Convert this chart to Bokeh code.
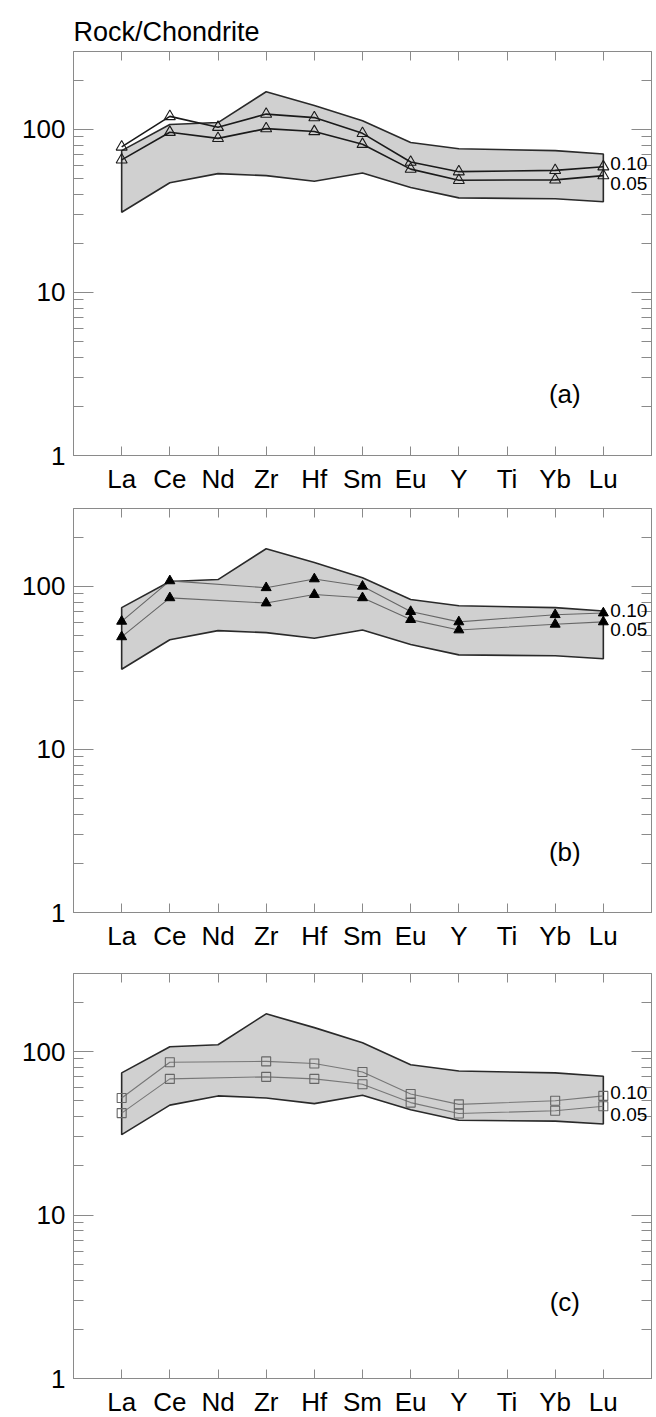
from bokeh.plotting import figure
from bokeh.models import Range1d, LinearAxis, LogAxis, FixedTicker, Label, ColumnDataSource
from bokeh.layouts import column
from bokeh.embed import file_html
from bokeh.resources import INLINE

# ---------------- data ----------------
elements = ["La", "Ce", "Nd", "Zr", "Hf", "Sm", "Eu", "Y", "Ti", "Yb", "Lu"]

# envelope (same in all panels); None = no value plotted
env_upper = [74, 107, 110, 170, 140, 113, 83, 76, None, 74, 70.6]
env_lower = [31, 47, 53.5, 52, 48, 54, 44, 38, None, 37.5, 36]

# panel (a) open triangles
a_010 = [78, 120, 103, 124, 118, 94.5, 63, 55, None, 56, 59]
a_005 = [65, 96, 88, 101, 97, 81, 57, 48.7, None, 49, 52]
# panel (b) filled triangles
b_010 = [61, 108, None, 98, 111, 100, 70, 60.5, None, 67, 68.6]
b_005 = [49, 85, None, 79, 89, 85, 62.5, 54, None, 58.5, 60.5]
# panel (c) open squares
c_010 = [52, 86, None, 87, 84.5, 75, 55, 47.5, None, 50, 53.5]
c_005 = [42, 68, None, 70, 68, 63, 48.7, 41.8, None, 43.4, 46.3]

series_labels = ["0.10", "0.05"]
panel_letters = ["(a)", "(b)", "(c)"]
y_major = [1, 10, 100]
y_minor = [2, 3, 4, 5, 6, 7, 8, 9, 20, 30, 40, 50, 60, 70, 80, 90, 200]

FONT = "Liberation Sans"
AX = "#8a8a8a"


def pts(vals):
    xs = [i + 1 for i, v in enumerate(vals) if v is not None]
    ys = [v for v in vals if v is not None]
    return xs, ys


def make_panel(v10, v05, style, letter, letter_dy, b_top, b_bot, b_left, b_right,
               fheight, title=None):
    p = figure(frame_width=578, frame_height=fheight, y_axis_type="log",
               x_range=Range1d(0, 12), y_range=Range1d(1, 300),
               output_backend="svg", toolbar_location=None,
               min_border_top=b_top, min_border_bottom=b_bot,
               min_border_left=b_left, min_border_right=b_right)
    p.xgrid.visible = False
    p.ygrid.visible = False
    p.outline_line_color = AX
    p.background_fill_color = "white"
    p.border_fill_color = "white"

    xticks = list(range(1, len(elements) + 1))
    xt = FixedTicker(ticks=xticks)
    yt = FixedTicker(ticks=y_major, minor_ticks=y_minor)
    top_ax = LinearAxis()
    right_ax = LogAxis()
    p.add_layout(top_ax, "above")
    p.add_layout(right_ax, "right")
    for ax in p.xaxis:
        ax.ticker = xt
        ax.major_tick_in = 9
        ax.major_tick_out = 0
        ax.minor_tick_in = 0
        ax.minor_tick_out = 0
    for ax in p.yaxis:
        ax.ticker = yt
        ax.major_tick_in = 20
        ax.major_tick_out = 0
        ax.minor_tick_in = 10
        ax.minor_tick_out = 0
    for ax in list(p.xaxis) + list(p.yaxis):
        ax.axis_line_color = AX
        ax.major_tick_line_color = AX
        ax.minor_tick_line_color = AX
        ax.major_label_text_font = FONT
        ax.major_label_text_color = "black"
        ax.major_label_text_font_size = "26px"

    bottom_ax = p.below[0]
    bottom_ax.major_label_overrides = {t: e for t, e in zip(xticks, elements)}
    bottom_ax.major_label_standoff = 8
    left_ax = p.left[0]
    left_ax.major_label_overrides = {t: str(t) for t in y_major}
    left_ax.major_label_standoff = 8

    top_ax.major_label_overrides = {t: "" for t in xticks}
    top_ax.major_label_text_font_size = "2px"
    top_ax.major_label_standoff = 0
    right_ax.major_label_overrides = {t: "" for t in y_major}
    right_ax.major_label_text_font_size = "2px"
    right_ax.major_label_standoff = 0

    # envelope polygon
    ux, uy = pts(env_upper)
    lx, ly = pts(env_lower)
    p.patch(ux + lx[::-1], uy + ly[::-1], fill_color="#d0d0d0",
            line_color="#2a2a2a", line_width=1.6)

    for vals in (v10, v05):
        xs, ys = pts(vals)
        src = ColumnDataSource(dict(x=xs, y=ys))
        if style == "a":
            p.line("x", "y", source=src, line_color="#1a1a1a", line_width=1.6)
            p.scatter("x", "y", source=src, marker="triangle", size=11,
                      line_color="#1a1a1a", fill_alpha=0, line_width=1.1)
        elif style == "b":
            p.line("x", "y", source=src, line_color="#666666", line_width=1.1)
            p.scatter("x", "y", source=src, marker="triangle", size=10,
                      line_color="black", fill_color="black")
        else:
            p.line("x", "y", source=src, line_color="#777777", line_width=1.1)
            p.scatter("x", "y", source=src, marker="square", size=9,
                      line_color="#666666", fill_alpha=0, line_width=1.1)

    # series labels at right end
    n = len(elements)
    p.add_layout(Label(x=n, y=v10[-1], x_offset=7, y_offset=3, text=series_labels[0],
                       text_font=FONT, text_font_size="19px", text_baseline="middle",
                       text_align="left", text_color="black"))
    p.add_layout(Label(x=n, y=v05[-1], x_offset=7, y_offset=-8, text=series_labels[1],
                       text_font=FONT, text_font_size="19px", text_baseline="middle",
                       text_align="left", text_color="black"))

    # panel letter
    p.add_layout(Label(x=10.2, y=1, y_offset=letter_dy, text=letter,
                       text_font=FONT, text_font_size="26px",
                       text_baseline="middle", text_align="center",
                       text_color="black"))
    if title:
        p.title.text = title
        p.title.text_font = FONT
        p.title.text_font_size = "27px"
        p.title.text_font_style = "normal"
        p.title.text_color = "black"
        p.title.align = "left"
        p.title.standoff = 10
    return p


pa = make_panel(a_010, a_005, "a", panel_letters[0], 62, 51, 40, 70, 8, 404,
                title="Rock/Chondrite")
pb = make_panel(b_010, b_005, "b", panel_letters[1], 61, 12, 40, 73, 5, 404)
pc = make_panel(c_010, c_005, "c", panel_letters[2], 77, 20, 38, 73, 5, 405)

layout = column(pa, pb, pc, spacing=0)
open("out.html", "w").write(file_html(layout, INLINE))
